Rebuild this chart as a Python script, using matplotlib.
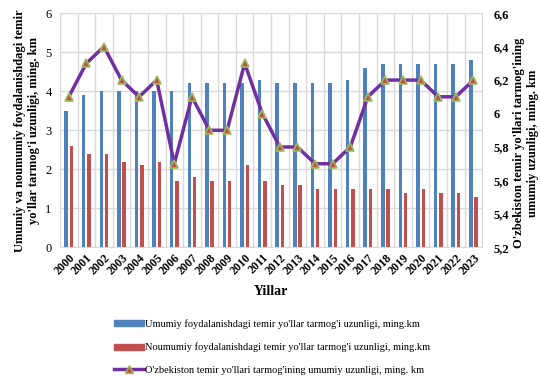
import numpy as np
import matplotlib.pyplot as plt
from matplotlib.lines import Line2D
from matplotlib.patches import Patch

plt.rcParams['font.family'] = ['Liberation Serif', 'DejaVu Serif']

# Data
years = [str(y) for y in range(2000, 2024)]
umumiy = [3.5, 3.9, 4.0, 4.0, 4.0, 4.0, 4.0, 4.2, 4.2, 4.2, 4.2, 4.3,
          4.2, 4.2, 4.2, 4.2, 4.3, 4.6, 4.7, 4.7, 4.7, 4.7, 4.7, 4.8]
noumumiy = [2.6, 2.4, 2.4, 2.2, 2.1, 2.2, 1.7, 1.8, 1.7, 1.7, 2.1, 1.7,
            1.6, 1.6, 1.5, 1.5, 1.5, 1.5, 1.5, 1.4, 1.5, 1.4, 1.4, 1.3]
jami = [6.1, 6.3, 6.4, 6.2, 6.1, 6.2, 5.7, 6.1, 5.9, 5.9, 6.3, 6.0,
        5.8, 5.8, 5.7, 5.7, 5.8, 6.1, 6.2, 6.2, 6.2, 6.1, 6.1, 6.2]
left_ticks = [0, 1, 2, 3, 4, 5, 6]
right_ticks = [5.2, 5.4, 5.6, 5.8, 6.0, 6.2, 6.4, 6.6]

blue = '#4F81BD'
red = '#C0504D'
purple = '#7030A0'
green = '#9BBB59'
grid_c = '#D9D9D9'

fig = plt.figure(figsize=(5.4, 3.76), dpi=100)
ax = fig.add_axes([0.111, 0.342, 0.782, 0.623])

x = np.arange(len(years))
w = 0.2
ax.bar(x - 0.15, umumiy, width=w, color=blue, zorder=2)
ax.bar(x + 0.15, noumumiy, width=w, color=red, zorder=2)

ax.set_xlim(-0.5, len(years) - 0.5)
ax.set_ylim(0, 6)
ax.set_yticks(left_ticks)
ax.set_yticklabels([str(t) for t in left_ticks], fontsize=9)
ax.set_xticks(x)
ax.set_xticklabels(years, rotation=45, fontsize=8.5, fontweight='bold',
                   ha='right', rotation_mode='anchor')
ax.set_xticks(np.arange(-0.5, len(years), 1), minor=True)
ax.grid(axis='y', color=grid_c, lw=1, zorder=0)
ax.grid(axis='x', which='minor', color=grid_c, lw=1, zorder=0)
ax.tick_params(axis='x', which='both', length=0, pad=3)
ax.tick_params(axis='y', length=0, pad=6)
for s in ax.spines.values():
    s.set_color(grid_c)

ax.set_xlabel('Yillar', fontsize=10, fontweight='bold', labelpad=6)
ax.set_ylabel("Umumiy va noumumiy foydalanishdagi temir\nyo'llar tarmog'i uzunligi, ming. km",
              fontsize=9, fontweight='bold', labelpad=4)

ax2 = ax.twinx()
ax2.plot(x, jami, color=purple, lw=2.5, marker='^', markersize=6,
         markerfacecolor=red, markeredgecolor=green, markeredgewidth=1.2, zorder=3)
ax2.set_ylim(5.2, 6.6)
ax2.set_yticks(right_ticks)
ax2.set_yticklabels([f'{t:g}'.replace('.', ',') for t in right_ticks],
                    fontsize=9, fontweight='bold')
ax2.tick_params(axis='y', length=0, pad=8)
for s in ax2.spines.values():
    s.set_visible(False)
fig.text(0.974, 0.62, "O'zbekiston temir yo'llari tarmog'ining\numumiy uzunligi, ming. km",
         fontsize=9, fontweight='bold', rotation=90, ha='center', va='center',
         multialignment='center')

handles = [
    Patch(color=blue, label="Umumiy foydalanishdagi temir yo'llar tarmog'i uzunligi, ming.km"),
    Patch(color=red, label="Noumumiy foydalanishdagi temir yo'llar tarmog'i uzunligi, ming.km"),
    Line2D([], [], color=purple, lw=2.5, marker='^', markersize=6,
           markerfacecolor=red, markeredgecolor=green,
           label="O'zbekiston temir yo'llari tarmog'ining umumiy uzunligi, ming. km"),
]
fig.legend(handles=handles, loc='center', bbox_to_anchor=(0.504, 0.077),
           frameon=False, fontsize=7.5, labelspacing=1.3, handlelength=2.8,
           handleheight=0.5, handletextpad=0.1, borderpad=0)

fig.savefig('out.png', dpi=100)
